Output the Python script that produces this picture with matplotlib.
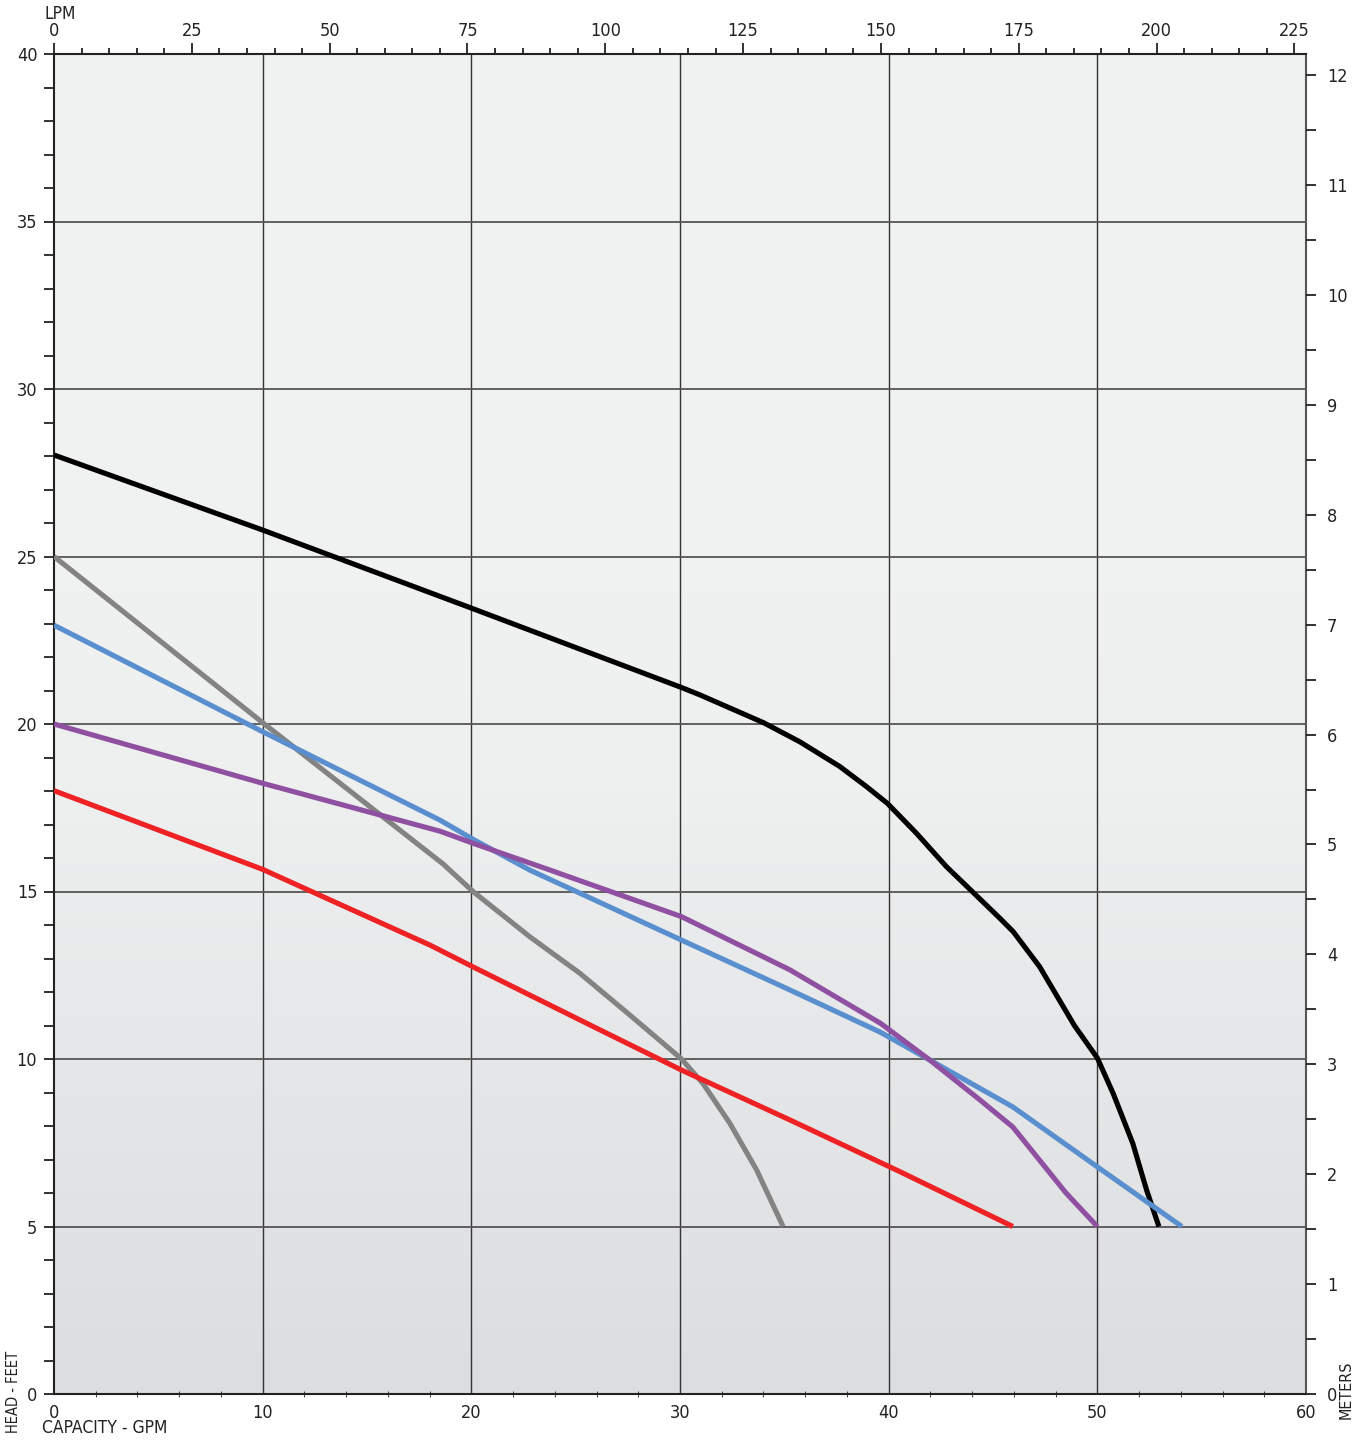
import matplotlib
matplotlib.use("Agg")
import matplotlib.pyplot as plt
import numpy as np
from matplotlib.colors import LinearSegmentedColormap
from matplotlib.ticker import MultipleLocator

plt.rcParams['font.family'] = ['DejaVu Sans']
plt.rcParams['font.stretch'] = 'condensed'

# -------------------------
# Pump curve data (GPM vs head in feet)
# -------------------------
black_gpm = [0, 10, 20, 30.07, 30.95, 34.0, 35.74, 37.66, 38.94, 39.94, 41.33, 42.77,
             43.97, 45.33, 45.97, 47.24, 48.9, 50.0, 50.76, 51.7, 52.36, 52.95]
black_ft = [28.03, 25.79, 23.46, 21.09, 20.87, 20.04, 19.47, 18.73, 18.13, 17.63, 16.74, 15.74,
            15.02, 14.2, 13.8, 12.75, 11.0, 10.03, 8.97, 7.48, 6.09, 5.0]

gray_gpm = [0, 10, 18.65, 20.08, 22.8, 25.2, 27.6, 29.19, 30.07, 31.1, 32.39, 33.67, 34.94]
gray_ft = [25.0, 20.04, 15.82, 15.0, 13.65, 12.56, 11.31, 10.47, 10.0, 9.27, 8.08, 6.69, 5.0]

blue_gpm = [0, 10, 18.5, 20.08, 22.8, 30.07, 35.27, 39.6, 41.97, 45.95, 50.0, 54.05]
blue_ft = [22.95, 19.77, 17.13, 16.56, 15.64, 13.55, 12.06, 10.8, 9.97, 8.57, 6.78, 5.0]

purple_gpm = [0, 10, 18.5, 20.08, 23.77, 30.07, 35.27, 39.6, 41.97, 44.37, 45.95, 48.5, 50.0]
purple_ft = [20.0, 18.23, 16.8, 16.44, 15.64, 14.25, 12.66, 11.07, 9.97, 8.78, 7.97, 6.0, 5.0]

red_gpm = [0, 10, 18.02, 20.08, 26.16, 30.07, 35.27, 40.53, 45.95]
red_ft = [18.01, 15.66, 13.4, 12.75, 10.87, 9.67, 8.18, 6.64, 5.0]

curves = [
    (black_gpm, black_ft, "#000000"),
    (gray_gpm, gray_ft, "#838383"),
    (blue_gpm, blue_ft, "#5a8fcf"),
    (purple_gpm, purple_ft, "#9050a2"),
    (red_gpm, red_ft, "#ee2224"),
]

GPM_TO_LPM = 3.785
FT_TO_M = 0.3048
TXT = "#222222"

# -------------------------
# Figure
# -------------------------
fig = plt.figure(figsize=(13.64, 14.41), dpi=100)
ax = fig.add_axes([54 / 1364, 47 / 1441, 1252 / 1364, 1340 / 1441])
ax.set_xlim(0, 60)
ax.set_ylim(0, 40)

# background gradient
cmap = LinearSegmentedColormap.from_list(
    "bg", [(0.0, "#dcdde0"), (0.45, "#eeefef"), (0.6, "#f0f2f1"), (1.0, "#f0f2f1")])
grad = np.linspace(0, 1, 256).reshape(-1, 1)
ax.imshow(grad, cmap=cmap, aspect="auto", extent=(0, 60, 0, 40), origin="lower", zorder=0)

# grid
for gx in range(10, 60, 10):
    ax.axvline(gx, color="#333333", lw=1.0, zorder=1)
for gy in range(5, 40, 5):
    ax.axhline(gy, color="#555555", lw=1.3, zorder=1)

for xs, ys, c in curves:
    ax.plot(xs, ys, color=c, lw=3.7, solid_capstyle="butt", solid_joinstyle="round", zorder=3)

# ticks
ax.xaxis.set_major_locator(MultipleLocator(10))
ax.xaxis.set_minor_locator(MultipleLocator(2))
ax.yaxis.set_major_locator(MultipleLocator(5))
ax.yaxis.set_minor_locator(MultipleLocator(1))
ax.tick_params(axis="x", which="major", length=0, labelsize=13, pad=7, colors=TXT)
ax.tick_params(axis="x", which="minor", length=4, direction="inout", color=TXT)
ax.tick_params(axis="y", which="both", length=7, width=1.3, labelsize=13, pad=5, colors=TXT)
for s in ["left", "bottom", "top"]:
    ax.spines[s].set_color(TXT)
    ax.spines[s].set_linewidth(1.5)
ax.spines["right"].set_color("#555555")
ax.spines["right"].set_linewidth(1.5)

# top axis: LPM
top = ax.twiny()
top.set_xlim(0, 60 * GPM_TO_LPM)
top.xaxis.set_major_locator(MultipleLocator(25))
top.xaxis.set_minor_locator(MultipleLocator(5))
top.tick_params(which="major", length=8, width=1.3, labelsize=13, pad=2, colors=TXT)
top.tick_params(which="minor", length=4, width=1.3, colors=TXT)
for s in top.spines.values():
    s.set_visible(False)

# right axis: meters
right = ax.twinx()
right.set_ylim(0, 40 * FT_TO_M)
right.yaxis.set_major_locator(MultipleLocator(1))
right.yaxis.set_minor_locator(MultipleLocator(0.5))
right.tick_params(which="both", length=7, width=1.3, labelsize=13, pad=8, colors=TXT)
for s in right.spines.values():
    s.set_visible(False)

# axis titles
fig.text(44 / 1364, 1 - 14 / 1441, "LPM", fontsize=12.5, ha="left", va="center", color=TXT)
fig.text(42 / 1364, 1 - 1428 / 1441, "CAPACITY - GPM", fontsize=12.5, ha="left", va="center", color=TXT)
fig.text(14 / 1364, 1 - 1392 / 1441, "HEAD - FEET", fontsize=10.5, rotation=90, ha="center", va="center", color=TXT)
fig.text(1346 / 1364, 1 - 1390 / 1441, "METERS", fontsize=11.5, rotation=90, ha="center", va="center", color=TXT)

plt.savefig("out.png", dpi=100)
